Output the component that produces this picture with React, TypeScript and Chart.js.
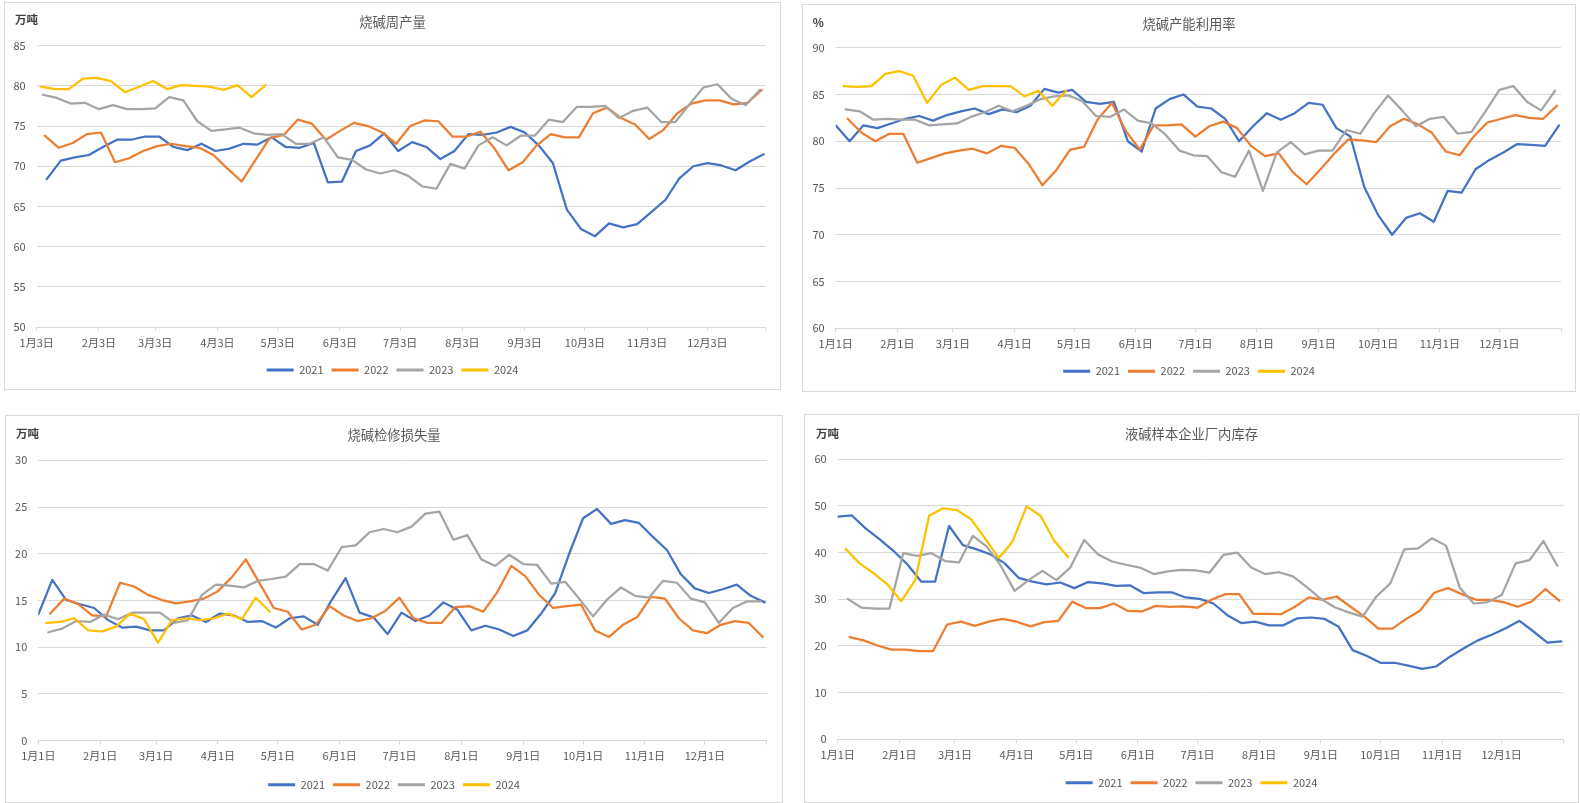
import React, { useEffect, useRef } from 'react';
import { Chart, registerables } from 'chart.js';

Chart.register(...registerables);

const FONT = '"Noto Sans CJK SC", "Noto Sans", sans-serif';
const YEARS = ['2021', '2022', '2023', '2024'];
const COLORS = ['#4472C4', '#ED7D31', '#A5A5A5', '#FFC000'];
const MONTH_START = [0, 31, 59, 90, 120, 151, 181, 212, 243, 273, 304, 334];
const YEAR_END = 365;

// ---------- 烧碱周产量 (万吨) ----------
const prodStarts = ['01-08', '01-07', '01-06', '01-05'];
const prod2021 = [68.4, 70.7, 71.1, 71.4, 72.4, 73.3, 73.3, 73.7, 73.7, 72.4, 72.0, 72.8, 71.9, 72.2, 72.8, 72.7, 73.6, 72.4, 72.3, 72.9, 68.0, 68.1, 71.9, 72.6, 74.1, 71.9, 73.0, 72.4, 70.9, 71.9, 74.0, 73.9, 74.2, 74.9, 74.2, 72.6, 70.4, 64.6, 62.2, 61.3, 62.9, 62.4, 62.8, 64.3, 65.8, 68.5, 70.0, 70.4, 70.1, 69.5, 70.6, 71.5];
const prod2022 = [73.8, 72.3, 72.9, 74.0, 74.2, 70.5, 71.0, 71.9, 72.5, 72.8, 72.5, 72.3, 71.4, 69.7, 68.1, 70.8, 73.5, 73.9, 75.8, 75.3, 73.3, 74.4, 75.4, 75.0, 74.2, 72.8, 75.0, 75.7, 75.6, 73.7, 73.7, 74.3, 72.2, 69.5, 70.5, 72.6, 74.0, 73.6, 73.6, 76.6, 77.3, 76.0, 75.2, 73.4, 74.5, 76.6, 77.8, 78.2, 78.2, 77.7, 77.9, 79.5];
const prod2023 = [78.9, 78.5, 77.8, 77.9, 77.1, 77.6, 77.1, 77.1, 77.2, 78.6, 78.2, 75.6, 74.4, 74.6, 74.8, 74.1, 73.9, 74.0, 72.8, 72.8, 73.6, 71.1, 70.8, 69.6, 69.1, 69.5, 68.8, 67.5, 67.2, 70.3, 69.7, 72.6, 73.6, 72.6, 73.8, 73.8, 75.8, 75.5, 77.4, 77.4, 77.5, 76.0, 76.9, 77.3, 75.5, 75.5, 77.7, 79.8, 80.2, 78.4, 77.6, 79.5];
const prod2024 = [79.9, 79.6, 79.6, 80.9, 81.0, 80.6, 79.2, 79.9, 80.6, 79.6, 80.1, 80.0, 79.9, 79.5, 80.1, 78.6, 80.1];

// ---------- 烧碱产能利用率 (%) ----------
const utilStarts = ['01-01', '01-07', '01-06', '01-05'];
const util2021 = [81.7, 80.0, 81.7, 81.4, 81.9, 82.4, 82.7, 82.2, 82.8, 83.2, 83.5, 82.9, 83.4, 83.1, 83.8, 85.6, 85.2, 85.5, 84.2, 84.0, 84.2, 80.0, 78.9, 83.5, 84.5, 85.0, 83.7, 83.5, 82.4, 80.0, 81.6, 83.0, 82.3, 83.0, 84.1, 83.9, 81.4, 80.5, 75.1, 72.1, 70.0, 71.8, 72.3, 71.4, 74.7, 74.5, 77.0, 78.0, 78.8, 79.7, 79.6, 79.5, 81.7];
const util2022 = [82.4, 80.9, 80.0, 80.8, 80.8, 77.7, 78.2, 78.7, 79.0, 79.2, 78.7, 79.5, 79.3, 77.6, 75.3, 76.9, 79.1, 79.4, 82.4, 84.1, 81.1, 79.1, 81.7, 81.7, 81.8, 80.5, 81.6, 82.1, 81.4, 79.5, 78.4, 78.7, 76.7, 75.4, 77.0, 78.7, 80.2, 80.1, 79.9, 81.6, 82.4, 81.8, 80.9, 78.9, 78.5, 80.5, 82.0, 82.4, 82.8, 82.5, 82.4, 83.8];
const util2023 = [83.4, 83.2, 82.3, 82.4, 82.3, 82.3, 81.7, 81.8, 81.9, 82.6, 83.1, 83.8, 83.2, 83.8, 84.5, 84.8, 84.9, 84.3, 82.7, 82.6, 83.4, 82.2, 81.9, 80.7, 79.0, 78.5, 78.4, 76.7, 76.2, 79.0, 74.7, 78.8, 79.9, 78.6, 79.0, 79.0, 81.2, 80.8, 83.0, 84.9, 83.3, 81.6, 82.4, 82.6, 80.8, 81.0, 83.2, 85.5, 85.9, 84.2, 83.3, 85.4];
const util2024 = [85.9, 85.8, 85.9, 87.2, 87.5, 87.0, 84.1, 86.0, 86.8, 85.5, 85.9, 85.9, 85.9, 84.8, 85.4, 83.8, 85.4];

// ---------- 烧碱检修损失量 (万吨) ----------
const lossStarts = ['01-01', '01-07', '01-06', '01-05'];
const loss2021 = [13.5, 17.2, 15.05, 14.6, 14.2, 12.9, 12.1, 12.2, 11.8, 11.8, 13.1, 13.4, 12.7, 13.6, 13.4, 12.7, 12.8, 12.1, 13.1, 13.3, 12.4, 15.05, 17.4, 13.7, 13.2, 11.4, 13.7, 12.8, 13.4, 14.8, 14.0, 11.8, 12.3, 11.9, 11.2, 11.8, 13.6, 15.8, 20.0, 23.8, 24.8, 23.2, 23.6, 23.3, 21.8, 20.4, 17.8, 16.3, 15.8, 16.2, 16.7, 15.5, 14.8];
const loss2022 = [13.6, 15.2, 14.6, 13.4, 13.3, 16.9, 16.5, 15.6, 15.05, 14.7, 14.9, 15.2, 16.0, 17.5, 19.4, 16.8, 14.2, 13.8, 11.9, 12.4, 14.4, 13.4, 12.8, 13.1, 13.9, 15.3, 13.1, 12.6, 12.6, 14.3, 14.4, 13.8, 15.9, 18.7, 17.6, 15.6, 14.2, 14.4, 14.55, 11.8, 11.1, 12.4, 13.2, 15.4, 15.2, 13.1, 11.8, 11.5, 12.4, 12.8, 12.6, 11.1];
const loss2023 = [11.6, 12.0, 12.8, 12.7, 13.5, 13.0, 13.7, 13.7, 13.7, 12.6, 12.9, 15.6, 16.7, 16.6, 16.4, 17.1, 17.3, 17.55, 18.9, 18.9, 18.2, 20.7, 20.9, 22.3, 22.65, 22.3, 22.9, 24.3, 24.5, 21.5, 22.0, 19.4, 18.7, 19.9, 18.9, 18.8, 16.8, 17.0, 15.2, 13.3, 15.1, 16.4, 15.5, 15.3, 17.1, 16.9, 15.2, 14.8, 12.6, 14.2, 14.9, 14.9];
const loss2024 = [12.6, 12.7, 13.1, 11.8, 11.7, 12.2, 13.6, 13.0, 10.5, 12.9, 13.1, 12.9, 13.1, 13.6, 13.0, 15.3, 13.8];

// ---------- 液碱样本企业厂内库存 (万吨) ----------
const stockStarts = ['01-01', '01-07', '01-06', '01-05'];
const stock2021 = [47.7, 48.0, 45.2, 42.9, 40.4, 37.5, 33.8, 33.8, 45.7, 41.6, 40.7, 39.6, 37.7, 34.6, 33.8, 33.2, 33.6, 32.4, 33.7, 33.4, 32.9, 33.0, 31.3, 31.5, 31.5, 30.4, 30.1, 29.1, 26.6, 24.9, 25.2, 24.4, 24.4, 25.9, 26.1, 25.8, 24.1, 19.1, 17.9, 16.4, 16.4, 15.8, 15.1, 15.6, 17.7, 19.5, 21.2, 22.4, 23.8, 25.4, 23.1, 20.7, 21.0];
const stock2022 = [21.9, 21.2, 20.1, 19.2, 19.2, 18.9, 18.9, 24.6, 25.2, 24.3, 25.2, 25.8, 25.2, 24.2, 25.1, 25.4, 29.5, 28.1, 28.1, 29.1, 27.5, 27.4, 28.6, 28.4, 28.5, 28.2, 29.9, 31.1, 31.1, 26.9, 26.9, 26.8, 28.4, 30.4, 29.9, 30.6, 28.4, 26.3, 23.7, 23.7, 25.8, 27.6, 31.4, 32.4, 31.1, 29.9, 29.9, 29.4, 28.4, 29.5, 32.2, 29.7];
const stock2023 = [30.1, 28.2, 28.0, 28.0, 39.9, 39.3, 39.9, 38.2, 37.9, 43.6, 41.3, 37.2, 31.8, 34.1, 36.1, 34.1, 36.8, 42.7, 39.6, 38.1, 37.4, 36.8, 35.4, 36.0, 36.3, 36.2, 35.7, 39.5, 40.0, 36.8, 35.4, 35.8, 34.9, 32.6, 30.1, 28.3, 27.2, 26.3, 30.6, 33.4, 40.7, 40.9, 43.1, 41.5, 32.4, 29.1, 29.4, 30.9, 37.7, 38.4, 42.5, 37.2];
const stock2024 = [40.8, 37.7, 35.6, 33.2, 29.6, 34.1, 47.9, 49.5, 49.1, 47.2, 43.1, 38.8, 42.4, 49.9, 47.9, 42.5, 39.0];

function dayOfYear(md: string): number {
  const parts = md.split('-');
  const m = parseInt(parts[0], 10);
  const d = parseInt(parts[1], 10);
  return MONTH_START[m - 1] + d - 1;
}

type Geo = {
  left: number; top: number; width: number; height: number;
  plotL: number; plotR: number; plotT: number; plotB: number;
  titleY: number; legendY: number; unitX: number; unitY: number;
};

type Spec = {
  title: string;
  unit: string;
  tickDay: number;
  yMin: number; yMax: number; yStep: number;
  starts: string[];
  values: number[][];
  geo: Geo;
};

function makeUnitPlugin(text: string, x: number, y: number) {
  return {
    id: 'unitLabel',
    afterDraw(chart: any) {
      const ctx = chart.ctx;
      ctx.save();
      ctx.font = `bold 11.5px ${FONT}`;
      ctx.fillStyle = '#404040';
      ctx.textBaseline = 'middle';
      ctx.textAlign = 'left';
      ctx.fillText(text, x, y);
      ctx.restore();
    },
  };
}

function buildConfig(spec: Spec): any {
  const g = spec.geo;
  const W = g.width - 2;
  const H = g.height - 2;
  const titleSize = 13.3;
  const titleLH = titleSize * 1.2;
  const titlePadTop = g.titleY - titleLH / 2;
  const titlePadBottom = g.plotT - titlePadTop - titleLH;
  const legPad = 8;
  const legFont = 11;
  const legendTop = g.legendY - legPad - legFont / 2;
  const legendH = legFont + legPad + 10;
  const padBottom = Math.max(0, H - legendTop - legendH);
  const xAxisH = legendTop - g.plotB;

  const tickDays = MONTH_START.map((s) => s + spec.tickDay - 1).concat([YEAR_END]);
  const tickLabels = MONTH_START.map((_, i) => `${i + 1}月${spec.tickDay}日`).concat(['']);
  const xMin = spec.tickDay - 1;

  const datasets = YEARS.map((yr, k) => {
    const s = dayOfYear(spec.starts[k]);
    return {
      label: yr,
      data: spec.values[k].map((v, i) => ({ x: s + 7 * i, y: v })),
      borderColor: COLORS[k],
      backgroundColor: COLORS[k],
      borderWidth: 2.25,
      pointRadius: 0,
      pointHoverRadius: 0,
      tension: 0,
      fill: false,
      borderJoinStyle: 'round',
      borderCapStyle: 'round',
      order: 3 - k,
      xAxisID: 'x',
      yAxisID: 'y',
    };
  });

  const tickFont = { family: FONT, size: 11 };

  return {
    type: 'line',
    data: { datasets },
    plugins: [makeUnitPlugin(spec.unit, g.unitX, g.unitY)],
    options: {
      responsive: false,
      animation: false,
      layout: { padding: { left: 0, right: 0, top: 0, bottom: padBottom } },
      plugins: {
        tooltip: { enabled: false },
        title: {
          display: true,
          text: spec.title,
          color: '#595959',
          font: { family: FONT, size: titleSize, weight: 'normal', lineHeight: 1.2 },
          padding: { top: titlePadTop, bottom: titlePadBottom },
        },
        legend: {
          display: true,
          position: 'bottom',
          labels: {
            boxWidth: 27,
            boxHeight: 3,
            padding: legPad,
            color: '#595959',
            font: { family: FONT, size: legFont },
            generateLabels: (chart: any) =>
              chart.data.datasets.map((ds: any, i: number) => ({
                text: ds.label,
                fillStyle: ds.borderColor,
                strokeStyle: ds.borderColor,
                lineWidth: 0,
                fontColor: '#595959',
                hidden: false,
                datasetIndex: i,
              })),
          },
        },
      },
      scales: {
        x: {
          type: 'linear',
          min: xMin,
          max: YEAR_END,
          afterBuildTicks: (s: any) => {
            s.ticks = tickDays.map((v) => ({ value: v }));
          },
          afterFit: (s: any) => {
            s.height = xAxisH;
          },
          ticks: {
            autoSkip: false,
            maxRotation: 0,
            minRotation: 0,
            padding: 5,
            color: '#595959',
            font: tickFont,
            callback: (_v: any, i: number) => (i < tickLabels.length ? tickLabels[i] : ''),
          },
          grid: { drawOnChartArea: false, drawTicks: true, tickLength: 4, color: '#d9d9d9', tickColor: '#d9d9d9' },
          border: { display: true, color: '#d9d9d9', width: 1 },
        },
        y: {
          type: 'linear',
          position: 'left',
          min: spec.yMin,
          max: spec.yMax,
          afterFit: (s: any) => {
            s.width = g.plotL;
          },
          ticks: { stepSize: spec.yStep, padding: 11, color: '#595959', font: tickFont },
          grid: { color: '#d9d9d9', drawTicks: false },
          border: { display: false },
        },
        yR: {
          type: 'linear',
          position: 'right',
          min: 0,
          max: 1,
          afterFit: (s: any) => {
            s.width = W - g.plotR;
          },
          ticks: { display: false },
          grid: { display: false, drawTicks: false },
          border: { display: false },
        },
      },
    },
  };
}

function Panel({ spec }: { spec: Spec }) {
  const ref = useRef<HTMLCanvasElement | null>(null);
  const g = spec.geo;
  const W = g.width - 2;
  const H = g.height - 2;
  useEffect(() => {
    if (!ref.current) return;
    const chart = new Chart(ref.current, buildConfig(spec));
    return () => chart.destroy();
  }, []);
  return (
    <div
      style={{
        position: 'absolute',
        left: g.left,
        top: g.top,
        width: W,
        height: H,
        border: '1px solid #d9d9d9',
        background: '#ffffff',
      }}
    >
      <canvas ref={ref} width={W} height={H} style={{ display: 'block', width: W, height: H }} />
    </div>
  );
}

const SPECS: Spec[] = [
  {
    title: '烧碱周产量', unit: '万吨', tickDay: 3, yMin: 50, yMax: 85, yStep: 5,
    starts: prodStarts, values: [prod2021, prod2022, prod2023, prod2024],
    geo: { left: 4, top: 2, width: 777, height: 388, plotL: 31.7, plotR: 760.7, plotT: 42.7, plotB: 324, titleY: 18.5, legendY: 367, unitX: 10, unitY: 17 },
  },
  {
    title: '烧碱产能利用率', unit: '%', tickDay: 1, yMin: 60, yMax: 90, yStep: 5,
    starts: utilStarts, values: [util2021, util2022, util2023, util2024],
    geo: { left: 802, top: 4, width: 774, height: 388, plotL: 32.7, plotR: 758, plotT: 42.7, plotB: 323.3, titleY: 18.8, legendY: 366.3, unitX: 9.7, unitY: 18 },
  },
  {
    title: '烧碱检修损失量', unit: '万吨', tickDay: 1, yMin: 0, yMax: 30, yStep: 5,
    starts: lossStarts, values: [loss2021, loss2022, loss2023, loss2024],
    geo: { left: 5, top: 415, width: 778, height: 388, plotL: 32.3, plotR: 760.7, plotT: 44.3, plotB: 324.7, titleY: 19, legendY: 368.7, unitX: 10, unitY: 18 },
  },
  {
    title: '液碱样本企业厂内库存', unit: '万吨', tickDay: 1, yMin: 0, yMax: 60, yStep: 10,
    starts: stockStarts, values: [stock2021, stock2022, stock2023, stock2024],
    geo: { left: 804, top: 414, width: 775, height: 389, plotL: 32.7, plotR: 758.3, plotT: 44.3, plotB: 324.3, titleY: 19, legendY: 367.8, unitX: 11, unitY: 18.3 },
  },
];

export default function App() {
  return (
    <div style={{ position: 'absolute', left: 0, top: 0, width: 1580, height: 803, overflow: 'hidden' }}>
      {SPECS.map((s, i) => (
        <Panel key={i} spec={s} />
      ))}
    </div>
  );
}
